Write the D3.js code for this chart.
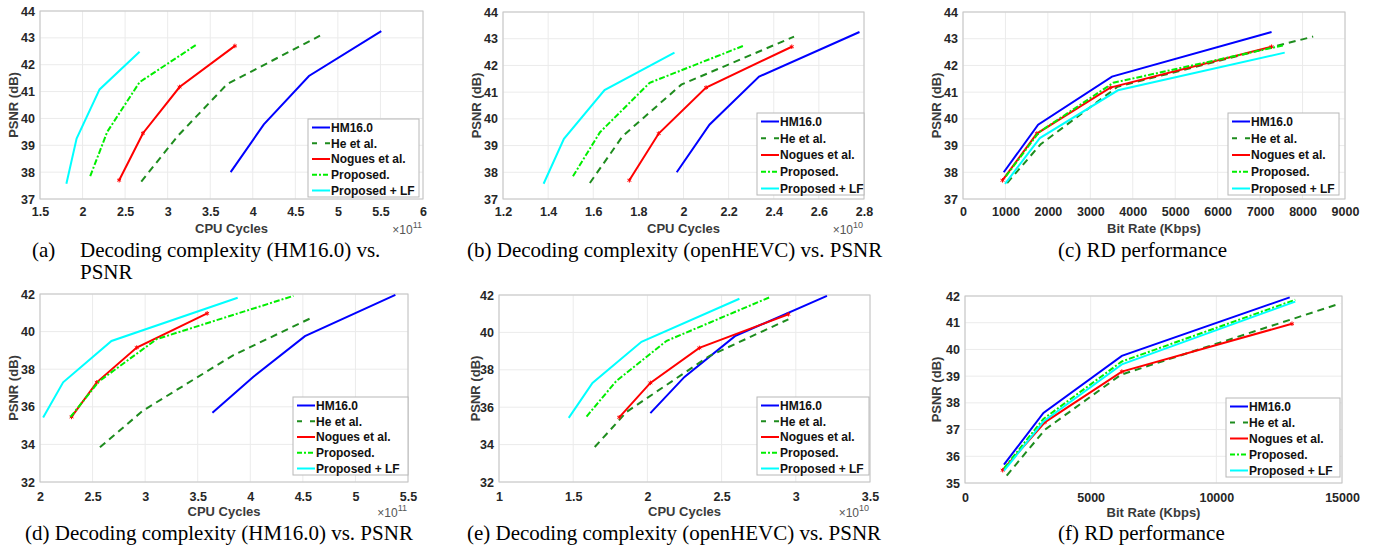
<!DOCTYPE html>
<html>
<head>
<meta charset="utf-8">
<script src="https://cdn.jsdelivr.net/npm/d3@7"></script>
<style>
body { margin: 0; background: #fff; }
text { font-family: "Liberation Sans", Arial, sans-serif; }
.caption { font-family: "Liberation Serif", "Times New Roman", serif; font-size: 21px; fill: #000; }
</style>
</head>
<body>
<div id="fig"></div>
<script>
var methods = ["HM16.0", "He et al.", "Nogues et al.", "Proposed.", "Proposed + LF"];

// (a) decoding cycles with HM16.0, x 1e11
var aCycles = [[3.74, 4.13, 4.66, 5.51], [2.69, 3.12, 3.7, 4.79], [2.43, 2.71, 3.14, 3.79], [2.09, 2.29, 2.67, 3.34], [1.81, 1.93, 2.2, 2.67]];
var aPsnr = [[38.0, 39.78, 41.58, 43.25], [37.65, 39.35, 41.28, 43.08], [37.7, 39.45, 41.17, 42.7], [37.85, 39.5, 41.35, 42.75], [37.57, 39.25, 41.08, 42.48]];

// (b) decoding cycles with openHEVC, x 1e10
var bCycles = [[1.97, 2.115, 2.335, 2.78], [1.585, 1.73, 1.99, 2.49], [1.76, 1.89, 2.1, 2.48], [1.51, 1.63, 1.85, 2.27], [1.38, 1.47, 1.65, 1.96]];
var bPsnr = [[38.0, 39.78, 41.58, 43.25], [37.6, 39.35, 41.28, 43.08], [37.7, 39.45, 41.17, 42.7], [37.85, 39.5, 41.35, 42.75], [37.57, 39.25, 41.08, 42.48]];

// (c) bit rate, kbps
var cRate = [[960, 1770, 3510, 7270], [1040, 1830, 3640, 8250], [930, 1740, 3470, 7270], [1010, 1790, 3540, 7540], [990, 1810, 3650, 7580]];
var cPsnr = [[38.0, 39.78, 41.58, 43.25], [37.6, 39.05, 41.2, 43.08], [37.7, 39.45, 41.17, 42.7], [37.85, 39.5, 41.35, 42.75], [37.57, 39.28, 41.07, 42.48]];

// (d) decoding cycles with HM16.0, x 1e11
var dCycles = [[3.64, 4.03, 4.52, 5.38], [2.57, 2.98, 3.84, 4.57], [2.3, 2.54, 2.92, 3.59], [2.29, 2.56, 3.11, 4.41], [2.03, 2.22, 2.68, 3.88]];
var dPsnr = [[35.68, 37.6, 39.76, 41.95], [33.85, 35.8, 38.75, 40.7], [35.46, 37.3, 39.15, 40.97], [35.46, 37.35, 39.6, 41.9], [35.43, 37.3, 39.5, 41.8]];

// (e) decoding cycles with openHEVC, x 1e10
var eCycles = [[2.02, 2.25, 2.59, 3.21], [1.645, 1.86, 2.42, 2.95], [1.81, 2.02, 2.35, 2.95], [1.59, 1.79, 2.13, 2.83], [1.47, 1.63, 1.96, 2.62]];
var ePsnr = [[35.68, 37.62, 39.8, 41.95], [33.87, 35.75, 38.75, 40.7], [35.46, 37.3, 39.17, 40.97], [35.5, 37.4, 39.55, 41.9], [35.43, 37.3, 39.5, 41.8]];

// (f) bit rate, kbps
var fRate = [[1550, 3120, 6240, 12920], [1660, 3185, 6200, 14930], [1500, 3185, 6240, 13010], [1553, 3120, 6240, 13140], [1553, 3120, 6240, 13140]];
var fPsnr = [[35.69, 37.62, 39.76, 41.95], [35.28, 37.0, 39.05, 41.72], [35.48, 37.28, 39.17, 40.96], [35.55, 37.4, 39.55, 41.86], [35.46, 37.3, 39.44, 41.79]];

var colors = ["#0000ff", "#1e8c1e", "#ff0000", "#00ee00", "#00ffff"];
var dashes = [null, "7,5", null, "6,2,2,2", null];

var svg = d3.select("#fig").append("svg")
    .attr("width", 1375)
    .attr("height", 546);

var panels = [
    {xs: aCycles, ys: aPsnr, scale: 1e11, exp: "11", xDomain: [1.5, 6], xTicks: d3.range(1.5, 6.01, 0.5), yDomain: [37, 44], yTicks: d3.range(37, 44.1, 1),
     box: [40, 423, 11, 199], pad: 8, xLabel: "CPU Cycles", yLabelX: 13, legend: [308, 119, 111, 78]},
    {xs: bCycles, ys: bPsnr, scale: 1e10, exp: "10", xDomain: [1.2, 2.8], xTicks: d3.range(1.2, 2.81, 0.2), yDomain: [37, 44], yTicks: d3.range(37, 44.1, 1),
     box: [503, 864, 12, 199], pad: 8, xLabel: "CPU Cycles", yLabelX: 476, legend: [757, 113, 107, 82]},
    {xs: cRate, ys: cPsnr, scale: 1, exp: null, xDomain: [0, 9000], xTicks: d3.range(0, 9001, 1000), yDomain: [37, 44], yTicks: d3.range(37, 44.1, 1),
     box: [963, 1345, 12, 199], pad: 8, xLabel: "Bit Rate (Kbps)", yLabelX: 936, legend: [1228, 113, 111, 82]},
    {xs: dCycles, ys: dPsnr, scale: 1e11, exp: "11", xDomain: [2, 5.5], xTicks: d3.range(2, 5.51, 0.5), yDomain: [32, 42], yTicks: d3.range(32, 42.1, 2),
     box: [40, 408, 294, 482], pad: 10, xLabel: "CPU Cycles", yLabelX: 13, legend: [293, 397, 115, 78]},
    {xs: eCycles, ys: ePsnr, scale: 1e10, exp: "10", xDomain: [1, 3.5], xTicks: d3.range(1, 3.51, 0.5), yDomain: [32, 42], yTicks: d3.range(32, 42.1, 2),
     box: [499, 870, 295, 482], pad: 10, xLabel: "CPU Cycles", yLabelX: 475, legend: [757, 397, 112, 78]},
    {xs: fRate, ys: fPsnr, scale: 1, exp: null, xDomain: [0, 15000], xTicks: [0, 5000, 10000, 15000], yDomain: [35, 42], yTicks: d3.range(35, 42.1, 1),
     box: [965, 1342, 296, 483], pad: 10, xLabel: "Bit Rate (Kbps)", yLabelX: 936, legend: [1226, 398, 114, 79]}
];

var captions = [
    {x: 32, y: 257, t: "(a)"},
    {x: 80, y: 257, t: "Decoding complexity (HM16.0) vs."},
    {x: 80, y: 279, t: "PSNR"},
    {x: 467, y: 257, t: "(b) Decoding complexity (openHEVC) vs. PSNR"},
    {x: 1058, y: 257, t: "(c) RD performance"},
    {x: 25, y: 540, t: "(d) Decoding complexity (HM16.0) vs. PSNR"},
    {x: 467, y: 540, t: "(e) Decoding complexity (openHEVC) vs. PSNR"},
    {x: 1058, y: 540, t: "(f) RD performance"}
];

var marker = d3.symbol().type(d3.symbolAsterisk || d3.symbolCross).size(14);

panels.forEach(function(p) {
    var g = svg.append("g");
    var left = p.box[0], right = p.box[1], top = p.box[2], bottom = p.box[3];
    // x data stored in units of p.scale, scale works on raw cycles / kbps
    var x = d3.scaleLinear().domain(p.xDomain.map(function(v) { return v * p.scale; })).range([left, right]);
    var y = d3.scaleLinear().domain(p.yDomain).range([bottom, top]);

    // grid
    g.selectAll(".gx").data(p.xTicks).enter().append("line")
        .attr("x1", function(d) { return x(d * p.scale); })
        .attr("x2", function(d) { return x(d * p.scale); })
        .attr("y1", top).attr("y2", bottom)
        .attr("stroke", "#ebebeb").attr("stroke-width", 1);
    g.selectAll(".gy").data(p.yTicks).enter().append("line")
        .attr("y1", function(d) { return y(d); })
        .attr("y2", function(d) { return y(d); })
        .attr("x1", left).attr("x2", right)
        .attr("stroke", "#ebebeb").attr("stroke-width", 1);

    g.append("rect")
        .attr("x", left).attr("y", top)
        .attr("width", right - left).attr("height", bottom - top)
        .attr("fill", "none").attr("stroke", "#c4c4c4").attr("stroke-width", 1);

    var xAxis = g.append("g")
        .attr("transform", "translate(0," + bottom + ")")
        .call(d3.axisBottom(x).tickValues(p.xTicks.map(function(v) { return v * p.scale; }))
            .tickSize(0).tickPadding(p.pad)
            .tickFormat(function(d) { return d3.format("~g")(+(d / p.scale).toFixed(2)); }));
    var yAxis = g.append("g")
        .attr("transform", "translate(" + left + ",0)")
        .call(d3.axisLeft(y).tickValues(p.yTicks).tickSize(0).tickPadding(5).tickFormat(d3.format("d")));
    [xAxis, yAxis].forEach(function(a) {
        a.select(".domain").remove();
        a.selectAll("text").attr("font-size", 12.5).attr("font-weight", "bold")
            .attr("fill", "#262626").attr("font-family", "Liberation Sans, Arial, sans-serif");
    });

    g.append("text")
        .attr("x", (left + right) / 2).attr("y", bottom + 34)
        .attr("text-anchor", "middle").attr("font-size", 13).attr("font-weight", "bold")
        .attr("fill", "#3a3a3a").text(p.xLabel);
    g.append("text")
        .attr("transform", "translate(" + (p.yLabelX + 5) + "," + ((top + bottom) / 2) + ") rotate(-90)")
        .attr("text-anchor", "middle").attr("font-size", 13).attr("font-weight", "bold")
        .attr("fill", "#3a3a3a").text("PSNR (dB)");

    if (p.exp) {
        var ex = g.append("text")
            .attr("x", right - 1).attr("y", bottom + 35)
            .attr("text-anchor", "end").attr("font-size", 12).attr("fill", "#555");
        ex.append("tspan").text("\u00d710");
        ex.append("tspan").attr("font-size", 9).attr("dy", -6).text(p.exp);
    }

    // series
    var line = d3.line()
        .x(function(d) { return x(d[0] * p.scale); })
        .y(function(d) { return y(d[1]); });
    methods.forEach(function(m, i) {
        var pts = p.xs[i].map(function(v, k) { return [v, p.ys[i][k]]; });
        g.append("path")
            .datum(pts)
            .attr("d", line)
            .attr("fill", "none")
            .attr("stroke", colors[i])
            .attr("stroke-width", 2)
            .attr("stroke-dasharray", dashes[i]);
        if (i === 2) {
            g.selectAll(".mk" + i).data(pts).enter().append("path")
                .attr("d", marker)
                .attr("transform", function(d) { return "translate(" + x(d[0] * p.scale) + "," + y(d[1]) + ")"; })
                .attr("fill", "none").attr("stroke", colors[i]).attr("stroke-width", 1);
        }
    });

    // legend
    var lb = p.legend;
    var leg = g.append("g");
    leg.append("rect")
        .attr("x", lb[0]).attr("y", lb[1]).attr("width", lb[2]).attr("height", lb[3])
        .attr("fill", "#fff").attr("stroke", "#b8b8b8").attr("stroke-width", 1);
    var step = (lb[3] - 15) / 4;
    methods.forEach(function(m, i) {
        var ry = lb[1] + 8.5 + i * step;
        leg.append("line")
            .attr("x1", lb[0] + 4).attr("x2", lb[0] + 22)
            .attr("y1", ry).attr("y2", ry)
            .attr("stroke", colors[i]).attr("stroke-width", 2)
            .attr("stroke-dasharray", i === 1 ? "5,8" : (i === 3 ? "5,2,2,2" : null));
        leg.append("text")
            .attr("x", lb[0] + 23).attr("y", ry).attr("dy", "0.36em")
            .attr("font-size", 12).attr("font-weight", "bold").attr("fill", "#111")
            .text(m);
    });
});

svg.selectAll(".caption").data(captions).enter().append("text")
    .attr("class", "caption")
    .attr("x", function(d) { return d.x; })
    .attr("y", function(d) { return d.y; })
    .text(function(d) { return d.t; });
</script>
</body>
</html>
